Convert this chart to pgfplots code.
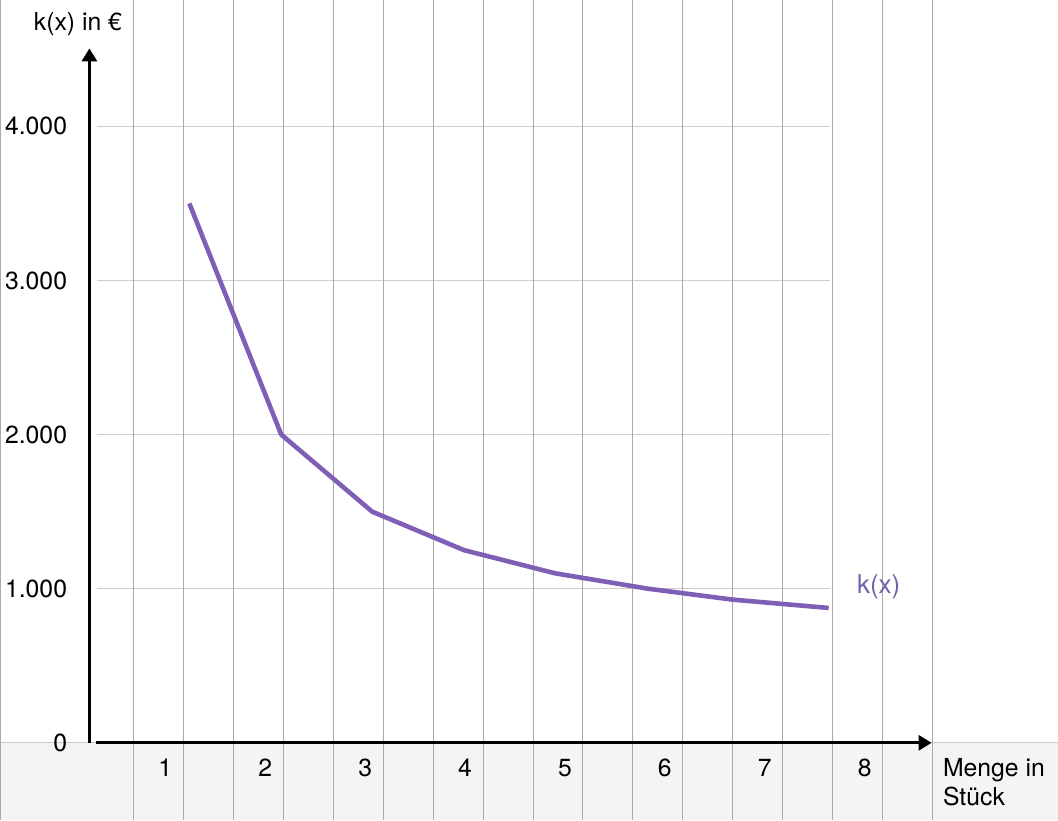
\documentclass[border=0pt]{standalone}
\usepackage{pgfplots}
\pgfplotsset{compat=1.18}
\usetikzlibrary{arrows.meta}
\usepackage{fontspec}
\setmainfont{TeX Gyre Heros}
\definecolor{kline}{HTML}{7F5FB6}
\definecolor{klabel}{HTML}{6A64A8}
\definecolor{vgrid}{HTML}{AAAAAA}
\definecolor{hgrid}{HTML}{CCCCCC}
\definecolor{band}{HTML}{F4F4F4}
\begin{document}
\begin{tikzpicture}
\begin{axis}[
  scale only axis, width=529pt, height=410pt,
  xmin=-0.65, xmax=9.93, ymin=-499.2, ymax=4816.8,
  axis line style={draw=none},
  axis on top=true,
  major tick length=0pt,
  xtick={1,2,3,4,5,6,7,8},
  ytick={0,1000,2000,3000,4000},
  scaled y ticks=false,
  clip=false,
  tick label style={font=\fontsize{12.4}{15}\selectfont, inner sep=0pt},
  xticklabel style={anchor=base, yshift=21.5pt},
  yticklabel style={anchor=east, xshift=33.5pt},
  /pgf/number format/1000 sep={.},
  /pgf/number format/assume math mode=true,
]
% grey band
\fill[band] (axis cs:-0.65,-499.2) rectangle (axis cs:9.93,0);
\draw[hgrid, line width=0.5pt] (axis cs:-0.65,0) -- (axis cs:9.93,0);
% horizontal grid
\draw[hgrid, line width=0.5pt] (axis cs:0.32,1000) -- (axis cs:7.65,1000);
\draw[hgrid, line width=0.5pt] (axis cs:0.32,2000) -- (axis cs:7.65,2000);
\draw[hgrid, line width=0.5pt] (axis cs:0.32,3000) -- (axis cs:7.65,3000);
\draw[hgrid, line width=0.5pt] (axis cs:0.32,4000) -- (axis cs:7.65,4000);
% vertical grid
\pgfplotsinvokeforeach{-0.645,0.68,1.18,1.68,2.18,2.68,3.18,3.68,4.18,4.68,5.18,5.68,6.18,6.68,7.18,7.68,8.18,8.68}{
  \draw[vgrid, line width=0.5pt] (axis cs:#1,-499.2) -- (axis cs:#1,4816.8);
}
% axes
\draw[line width=1.5pt, -{Triangle[width=7.5pt,length=6.5pt]}] (axis cs:0.24,0) -- (axis cs:0.24,4506);
\draw[line width=1.4pt, -{Triangle[width=7.5pt,length=6.5pt]}] (axis cs:0.31,0) -- (axis cs:8.67,0);
% curve
\addplot[kline, line width=2.3pt, line join=round] coordinates {
  (1.24,3500) (2.16,2000) (3.07,1500) (3.99,1250) (4.90,1100) (5.83,1000) (6.68,929) (7.64,875)
};
% labels
\node[anchor=base east, inner sep=0pt, font=\fontsize{12.4}{15}\selectfont] at (axis cs:0.57,4622) {k(x) in €};
\node[anchor=base west, inner sep=0pt, text=klabel, font=\fontsize{13}{15}\selectfont] at (axis cs:7.92,966) {k(x)};
\node[anchor=base west, inner sep=0pt, font=\fontsize{12.4}{15}\selectfont] at (axis cs:8.78,-220) {Menge in};
\node[anchor=base west, inner sep=0pt, font=\fontsize{12.4}{15}\selectfont] at (axis cs:8.78,-408) {Stück};
\end{axis}
\end{tikzpicture}
\end{document}
